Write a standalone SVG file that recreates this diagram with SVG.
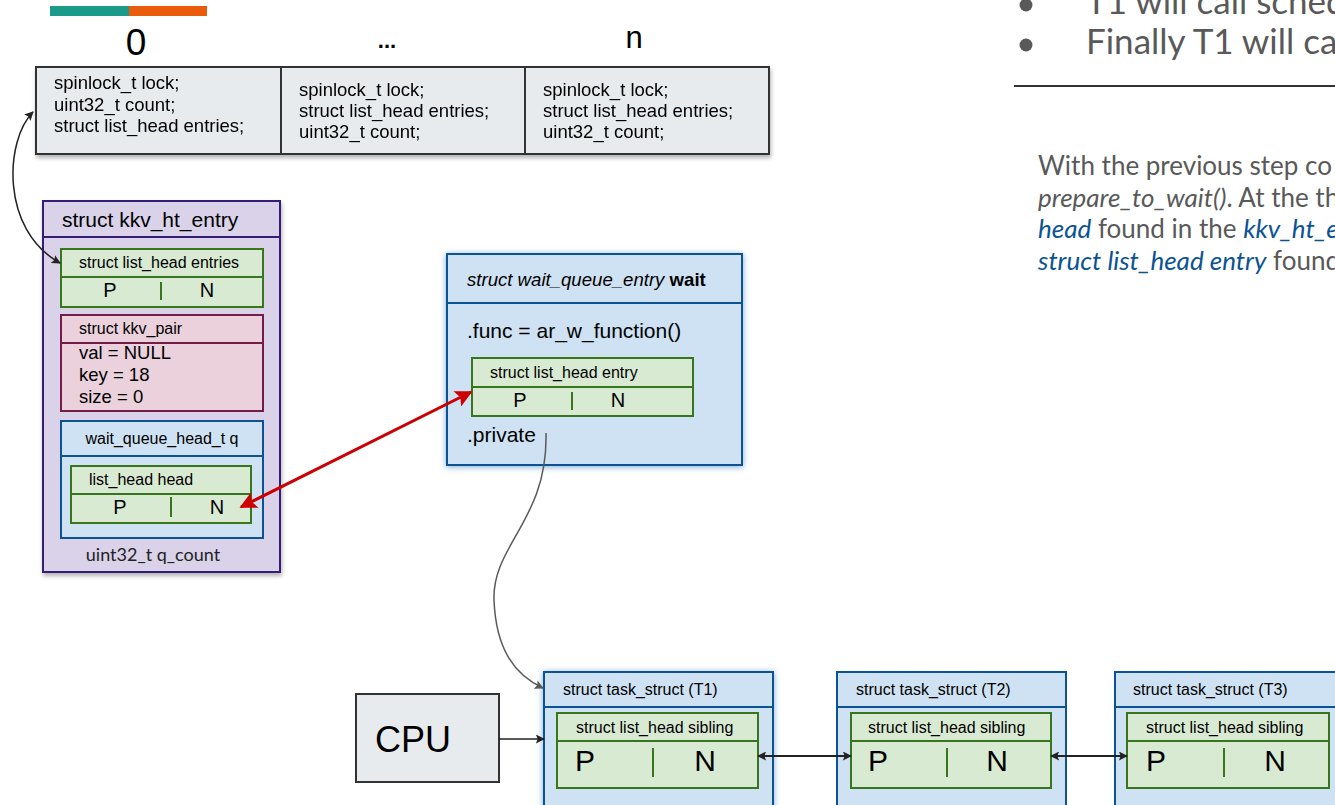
<svg xmlns="http://www.w3.org/2000/svg" width="1335" height="805" viewBox="0 0 1335 805">
<defs>
<style>
.a{font-family:"Liberation Sans",Arial,sans-serif;fill:#000}
.l{font-family:Lato,"Open Sans",sans-serif}
.cell{fill:#e8ebed;stroke:#333;stroke-width:2}
.grn{fill:#d9ead3;stroke:#38761d;stroke-width:2}
.blu{fill:#cfe2f3;stroke:#0b5394;stroke-width:2}
.gdiv{stroke:#38761d;stroke-width:2}
.bdiv{stroke:#0b5394;stroke-width:2}
.s16{font-size:16px}
.s185{font-size:18.5px}
.pn{font-size:20px;text-anchor:middle}
.pnl{font-size:30px;text-anchor:middle}
.conn{fill:none}
.gray{fill:#595959}
.blue{fill:#0b5394;font-style:italic}
</style>
<filter id="sh" x="-10%" y="-10%" width="120%" height="130%">
<feDropShadow dx="1" dy="3" stdDeviation="2" flood-color="#000" flood-opacity="0.3"/>
</filter>
<filter id="glow" x="-10%" y="-10%" width="120%" height="130%">
<feDropShadow dx="0" dy="1" stdDeviation="3" flood-color="#3d85c6" flood-opacity="0.7"/>
</filter>
<marker id="ab" viewBox="0 0 10 10" refX="9" refY="5" markerWidth="11" markerHeight="9" markerUnits="userSpaceOnUse" orient="auto-start-reverse">
<path d="M0,0 L10,5 L0,10 L2,5 z" fill="#222"/>
</marker>
<marker id="ag" viewBox="0 0 10 10" refX="9" refY="5" markerWidth="12" markerHeight="9" markerUnits="userSpaceOnUse" orient="auto-start-reverse">
<path d="M0,0 L10,5 L0,10 L2,5 z" fill="#595959"/>
</marker>
<marker id="ar" viewBox="0 0 10 10" refX="9" refY="5" markerWidth="22" markerHeight="17" markerUnits="userSpaceOnUse" orient="auto-start-reverse">
<path d="M0,0 L10,5 L0,10 L2,5 z" fill="#cc0000"/>
</marker>
</defs>
<rect width="1335" height="805" fill="#fff"/>

<g id="accent-bar">
<rect x="50" y="6" width="79" height="10" fill="#1b9a8a"/>
<rect x="129" y="6" width="78" height="10" fill="#ea5b0c"/>
</g>

<g id="bucket-labels" class="a">
<text x="136" y="55" font-size="37" text-anchor="middle">0</text>
<text x="387" y="48" font-size="22" font-weight="bold" text-anchor="middle">...</text>
<text x="634" y="48" font-size="31" text-anchor="middle">n</text>
</g>

<g id="buckets" filter="url(#sh)">
<g id="bucket-0">
<rect class="cell" x="36" y="67" width="245" height="87"/>
<text class="a s185" x="54" y="89">spinlock_t lock;</text>
<text class="a s185" x="54" y="111">uint32_t count;</text>
<text class="a s185" x="54" y="132">struct list_head entries;</text>
</g>
<g id="bucket-mid">
<rect class="cell" x="281" y="67" width="244" height="87"/>
<text class="a s185" x="299" y="96">spinlock_t lock;</text>
<text class="a s185" x="299" y="117">struct list_head entries;</text>
<text class="a s185" x="299" y="138">uint32_t count;</text>
</g>
<g id="bucket-n">
<rect class="cell" x="525" y="67" width="244" height="87"/>
<text class="a s185" x="543" y="96">spinlock_t lock;</text>
<text class="a s185" x="543" y="117">struct list_head entries;</text>
<text class="a s185" x="543" y="138">uint32_t count;</text>
</g>
</g>

<g id="kkv_ht_entry">
<rect x="43" y="201" width="237" height="371" fill="#d9d2e9" stroke="#351c75" stroke-width="2" filter="url(#sh)"/>
<line x1="43" y1="237" x2="280" y2="237" stroke="#351c75" stroke-width="2"/>
<text class="a" x="62" y="227" font-size="21">struct kkv_ht_entry</text>
<g id="kkv-entries">
<rect class="grn" x="61" y="249" width="202" height="58"/>
<line class="gdiv" x1="61" y1="277" x2="263" y2="277"/>
<text class="a s16" x="79" y="268">struct list_head entries</text>
<text class="a pn" x="110" y="297">P</text>
<line class="gdiv" x1="161" y1="282" x2="161" y2="300"/>
<text class="a pn" x="207" y="297">N</text>
</g>
<g id="kkv-pair">
<rect x="61" y="315" width="202" height="96" fill="#ead1dc" stroke="#741b47" stroke-width="2"/>
<line x1="61" y1="343" x2="263" y2="343" stroke="#741b47" stroke-width="2"/>
<text class="a s16" x="79" y="334">struct kkv_pair</text>
<text class="a s185" x="79" y="359">val = NULL</text>
<text class="a s185" x="79" y="381">key = 18</text>
<text class="a s185" x="79" y="403">size = 0</text>
</g>
<g id="kkv-waitq">
<rect class="blu" x="61" y="421" width="202" height="117"/>
<line class="bdiv" x1="61" y1="456" x2="263" y2="456"/>
<text class="a s16" x="162" y="444" text-anchor="middle">wait_queue_head_t q</text>
<rect class="grn" x="71" y="466" width="180" height="57"/>
<line class="gdiv" x1="71" y1="494" x2="251" y2="494"/>
<text class="a s16" x="89" y="485">list_head head</text>
<text class="a pn" x="120" y="514">P</text>
<line class="gdiv" x1="171" y1="497" x2="171" y2="517"/>
<text class="a pn" x="217" y="514">N</text>
</g>
<text class="l" x="153" y="561" font-size="18" fill="#222" text-anchor="middle">uint32_t q_count</text>
</g>

<g id="wait_queue_entry">
<rect class="blu" x="447" y="254" width="295" height="211" filter="url(#glow)"/>
<line class="bdiv" x1="447" y1="303" x2="742" y2="303"/>
<text class="a" x="467" y="286" font-size="18.6"><tspan font-style="italic">struct wait_queue_entry </tspan><tspan font-weight="bold">wait</tspan></text>
<text class="a" x="467" y="338" font-size="21">.func = ar_w_function()</text>
<rect class="grn" x="472" y="358" width="221" height="58"/>
<line class="gdiv" x1="472" y1="387" x2="693" y2="387"/>
<text class="a s16" x="490" y="378">struct list_head entry</text>
<text class="a pn" x="520" y="407">P</text>
<line class="gdiv" x1="572" y1="392" x2="572" y2="410"/>
<text class="a pn" x="618" y="407">N</text>
<text class="a" x="467" y="442" font-size="21">.private</text>
</g>

<g id="cpu">
<rect x="356" y="694" width="143" height="88" fill="#e8ebed" stroke="#333" stroke-width="2"/>
<text class="a" x="375" y="752" font-size="36">CPU</text>
</g>

<g id="task-T1">
<rect class="blu" x="544" y="672" width="229" height="150" filter="url(#glow)"/>
<line class="bdiv" x1="544" y1="707" x2="773" y2="707"/>
<text class="a s16" x="563" y="695">struct task_struct (T1)</text>
<rect class="grn" x="557" y="713" width="201" height="75"/>
<line class="gdiv" x1="557" y1="741" x2="758" y2="741"/>
<text class="a s16" x="576" y="733">struct list_head sibling</text>
<text class="a pnl" x="585" y="771">P</text>
<line class="gdiv" x1="653" y1="748" x2="653" y2="777"/>
<text class="a pnl" x="705" y="771">N</text>
</g>

<g id="task-T2">
<rect class="blu" x="837" y="672" width="229" height="150"/>
<line class="bdiv" x1="837" y1="707" x2="1066" y2="707"/>
<text class="a s16" x="856" y="695">struct task_struct (T2)</text>
<rect class="grn" x="851" y="713" width="200" height="75"/>
<line class="gdiv" x1="851" y1="741" x2="1051" y2="741"/>
<text class="a s16" x="868" y="733">struct list_head sibling</text>
<text class="a pnl" x="878" y="771">P</text>
<line class="gdiv" x1="947" y1="748" x2="947" y2="777"/>
<text class="a pnl" x="997" y="771">N</text>
</g>

<g id="task-T3">
<rect class="blu" x="1115" y="672" width="229" height="150"/>
<line class="bdiv" x1="1115" y1="707" x2="1344" y2="707"/>
<text class="a s16" x="1133" y="695">struct task_struct (T3)</text>
<rect class="grn" x="1127" y="713" width="202" height="75"/>
<line class="gdiv" x1="1127" y1="741" x2="1329" y2="741"/>
<text class="a s16" x="1146" y="733">struct list_head sibling</text>
<text class="a pnl" x="1156" y="771">P</text>
<line class="gdiv" x1="1224" y1="748" x2="1224" y2="777"/>
<text class="a pnl" x="1275" y="771">N</text>
</g>

<g id="connectors">
<path class="conn" d="M33 112 C5 140 0 230 60 263" stroke="#222" stroke-width="1.5" marker-start="url(#ab)" marker-end="url(#ab)"/>
<line x1="471" y1="392" x2="241" y2="507" stroke="#cc0000" stroke-width="3" marker-start="url(#ar)" marker-end="url(#ar)"/>
<path class="conn" d="M546 433 C548 520 492 545 494 600 C496 650 515 675 543 688" stroke="#595959" stroke-width="1.5" marker-end="url(#ag)"/>
<line x1="499" y1="739" x2="544" y2="739" stroke="#222" stroke-width="1.5" marker-end="url(#ab)"/>
<line x1="758" y1="756" x2="851" y2="756" stroke="#222" stroke-width="2" marker-start="url(#ab)" marker-end="url(#ab)"/>
<line x1="1051" y1="756" x2="1127" y2="756" stroke="#222" stroke-width="2" marker-start="url(#ab)" marker-end="url(#ab)"/>
</g>

<g id="notes">
<circle cx="1026" cy="5" r="6.5" fill="#595959"/>
<circle cx="1026" cy="45" r="6.5" fill="#595959"/>
<text class="l gray" x="1086" y="14" font-size="35">T1 will call sched</text>
<text class="l gray" x="1086" y="54" font-size="35">Finally T1 will ca</text>
<line x1="1014" y1="86" x2="1335" y2="86" stroke="#333" stroke-width="2"/>
<text class="l gray" x="1038" y="175" font-size="26">With the previous step co</text>
<text class="l gray" x="1038" y="207" font-size="26"><tspan font-style="italic">prepare_to_wait()</tspan>. At the th</text>
<text class="l gray" x="1038" y="238" font-size="26"><tspan class="blue">head</tspan> found in the <tspan class="blue">kkv_ht_e</tspan></text>
<text class="l gray" x="1038" y="270" font-size="26"><tspan class="blue">struct list_head entry</tspan> found</text>
</g>
</svg>
